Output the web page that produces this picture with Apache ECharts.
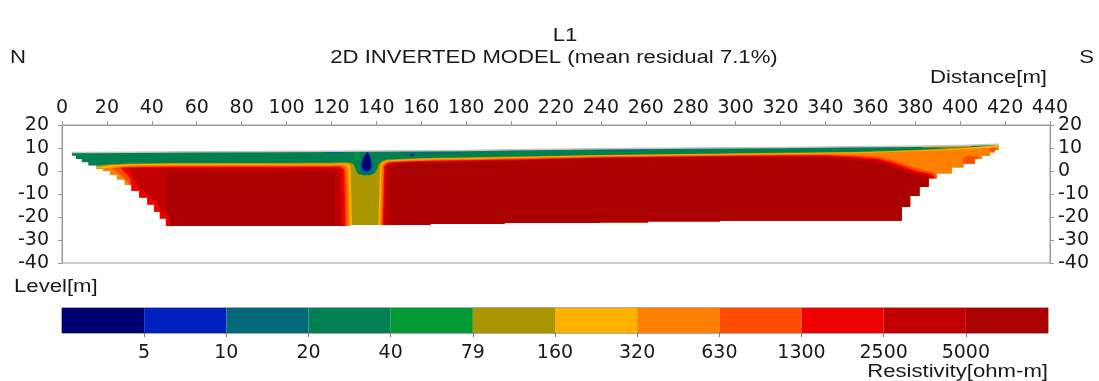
<!DOCTYPE html>
<html><head><meta charset="utf-8">
<script src="https://cdn.jsdelivr.net/npm/echarts@6/dist/echarts.min.js"></script>
<style>html,body{margin:0;padding:0;background:#fff}#c{width:1099px;height:381px}</style>
</head><body><div id="c"></div><script>
// ---- colour scale (resistivity, ohm-m) ----
const bandLimits = [5, 10, 20, 40, 79, 160, 320, 630, 1300, 2500, 5000];
const bandColors = ['#000070','#0020c0','#006878','#008050','#009933','#aa9600','#ffb000','#ff8000','#ff4c00','#ee0000','#c00000','#aa0000'];

// ---- section geometry (distance m, level m) ----
const surfaceProfile = [[4.4,8.0],[30,8.2],[60,8.4],[100,8.5],[140,8.7],[180,8.9],[200,9.2],[240,9.7],[280,10.0],[320,10.2],[350,10.5],[380,10.8],[400,11.1],[417,11.6]];
const rightStaircase = [[417,11.6],[417,9.1],[415.5,9.1],[415.5,8.1],[413.3,8.1],[413.3,6.7],[409.5,6.7],[409.5,5.2],[406.6,5.2],[406.6,3.3],[401.4,3.3],[401.4,1.6],[396.2,1.6],[396.2,-1.0],[389.5,-1.0],[389.5,-3.2],[385.9,-3.2],[385.9,-6.8],[381.8,-6.8],[381.8,-10.9],[377.7,-10.9],[377.7,-15.5],[374,-15.5],[374,-21.5]];
const bottomProfile = [[46.3,-23.9],[128,-23.9],[128,-23.5],[164,-23.5],[164,-23.0],[197,-23.0],[197,-22.6],[240,-22.6],[240,-22.3],[261,-22.3],[261,-21.9],[293,-21.9],[293,-21.5],[374,-21.5]];
const leftStaircase = [[4.4,8.0],[4.4,6.6],[6.2,6.6],[6.2,5.2],[8.8,5.2],[8.8,3.8],[11.7,3.8],[11.7,2.4],[15.4,2.4],[15.4,1.0],[18.5,1.0],[18.5,0.0],[21.5,0.0],[21.5,-1.6],[24.5,-1.6],[24.5,-3.6],[28,-3.6],[28,-6.0],[31,-6.0],[31,-8.6],[34.4,-8.6],[34.4,-11.5],[38,-11.5],[38,-14.6],[41,-14.6],[41,-17.7],[43.6,-17.7],[43.6,-20.6],[46.3,-20.6],[46.3,-23.9]];

// ---- resistivity zones (contour regions, painted low to high) ----
const zoneAll = [[0,20],[440,20],[440,-40],[0,-40]];
const zoneGe5 = [[0,2.3],[15,2.3],[20,2.8],[30,3.3],[50,3.5],[100,3.5],[120,3.6],[126,3.8],[128.3,3.6],[129.8,3.0],[130.8,0.5],[131.8,-1.2],[134,-1.8],[137,-1.8],[139,-1.2],[140.2,0.5],[141,3.0],[142.5,4.4],[145,5.0],[160,5.6],[200,6.3],[240,7.0],[300,7.7],[340,8.1],[355,8.4],[370,8.8],[385,9.4],[400,10.2],[417,11.0],[440,11.0],[440,-40],[0,-40]];
const zoneLeft6 = [[0,1.9],[17,1.9],[22,2.5],[30,2.9],[50,3.1],[120,3.2],[125.5,3.4],[127.6,3.0],[128.5,2.0],[129.6,-40],[0,-40]];
const zoneRight6 = [[140.4,-40],[141.6,2.0],[142.6,3.9],[145,4.7],[160,5.3],[200,6.0],[240,6.8],[300,7.5],[340,7.9],[355,8.2],[370,8.6],[385,9.1],[400,9.8],[410,10.6],[417,11.4],[440,11.4],[440,-40]];
const zoneLeft7 = [[0,0.8],[19,1.2],[24,2.0],[32,2.5],[50,2.7],[120,2.8],[125,2.9],[127,2.2],[127.6,1.0],[128.6,-40],[0,-40]];
const zoneRight7 = [[141.2,-40],[142.3,2.0],[143.2,3.6],[145.5,4.4],[160,5.0],[200,5.7],[240,6.5],[300,7.2],[340,7.6],[355,7.8],[370,8.3],[390,8.9],[405,9.6],[417,10.3],[440,10.3],[440,-40]];
const zoneLeft8 = [[22,1.2],[30,1.9],[50,2.2],[120,2.3],[124.5,2.4],[126.3,1.5],[126.6,0],[127.6,-40],[25,-40],[30.5,-6.5],[28.5,-3.8],[25.5,-1.2]];
const zoneRight8 = [[141.9,-40],[143,2.0],[144,3.4],[146,4.1],[160,4.6],[200,5.3],[240,6.2],[300,6.9],[340,7.2],[354,6.9],[364,6.1],[370,4.8],[376,2.8],[382,0.7],[388,-0.5],[391,-3],[396,-40]];
const zoneLeft9 = [[26,1.5],[35,1.7],[50,1.8],[120,1.9],[123.5,2.0],[125.3,1.0],[125.7,0],[126.6,-40],[27,-40],[30.8,-6.0],[30.5,-3.5],[28.5,-1.0]];
const zoneRight9 = [[142.4,-40],[143.5,2.0],[144.7,3.2],[147,3.8],[160,4.3],[200,5.0],[240,5.9],[300,6.6],[340,6.8],[353,6.2],[363,5.4],[369,4.0],[375,2.0],[381,-0.1],[387,-1.2],[390,-4],[394,-40]];
const zoneLeft10 = [[30,1.2],[50,1.3],[120,1.4],[122.8,1.3],[124.2,0.2],[125,-40],[47.8,-40],[47.8,-20.6],[45,-17.7],[42.5,-14.6],[39.5,-11.5],[36,-8.6],[33.2,-6.0],[32,-3],[30.8,-0.5]];
const zoneRight10 = [[143,-40],[144.2,2.0],[145.5,2.9],[148,3.5],[160,4.0],[200,4.7],[240,5.6],[300,6.3],[340,6.3],[352,5.5],[362,4.7],[368,3.3],[374,1.2],[380,-0.9],[386,-2.0],[389,-5],[392,-40]];
const zoneLeft11 = [[46.6,-0.6],[118,-0.6],[121,-1.2],[121.6,-3],[121.6,-40],[48.8,-40],[48.8,-21],[46.6,-18.5]];
const zoneRight11 = [[146,-40],[145.8,0],[146.5,2.6],[150,3.2],[170,3.7],[200,4.4],[232,5.3],[300,6.0],[340,5.8],[351,4.8],[361,4.0],[367,2.6],[373,0.4],[379,-1.7],[385,-2.8],[388,-6],[390,-40]];
const zoneWedgeBlobA = [[401.5,5.8],[404,6.6],[407.5,6.2],[408.5,4.8],[407,3.0],[401,3.0]];
const zoneWedgeBlobB = [[413.5,10.0],[415.5,10.2],[416.5,9.2],[414.5,8.3],[413,9.0]];
const zoneTopOlive = [[383,11.0],[405,11.4],[405,10.4],[395,10.1],[383,10.2]];
const zoneColumnTeal = [[133,3.0],[138.5,3.0],[138.6,0],[137.5,-1.4],[134,-1.4],[132.8,0]];
const zoneColumnGreen4 = [[130,8.6],[132.5,8.6],[132.5,5.5],[130.5,4.5]];
const zoneBlobBlue = [[136.0,8.5],[137.2,6.6],[137.8,4.5],[137.9,2.0],[137.2,0.2],[135.5,-0.3],[133.8,0.4],[133.3,2.5],[133.5,4.5],[134.6,6.6]];
const zoneBlobNavy = [[136.0,8.0],[136.8,6.5],[137.3,4.5],[137.4,2.0],[136.8,0.6],[135.5,0.2],[134.3,0.8],[133.8,2.5],[134.0,4.5],[135.0,6.5]];
const zoneSpeckNavy = [[155,7.7],[156.6,7.7],[156.6,6.6],[155,6.6]];
const zoneTealStripA = [[150,7.9],[178,8.0],[178,7.5],[150,7.3]];
const zoneTealStripB = [[240,9.2],[262,9.3],[262,8.8],[240,8.7]];
const zoneTealStripC = [[118,8.2],[126,8.2],[126,7.6],[118,7.6]];

const zones = [
  [3, zoneAll], [5, zoneGe5],
  [6, zoneLeft6], [6, zoneRight6],
  [7, zoneLeft7], [7, zoneRight7],
  [8, zoneLeft8], [8, zoneRight8],
  [9, zoneLeft9], [9, zoneRight9],
  [10, zoneLeft10], [10, zoneRight10],
  [11, zoneLeft11], [11, zoneRight11],
  [8, zoneWedgeBlobA], [8, zoneWedgeBlobB], [5, zoneTopOlive],
  [2, zoneColumnTeal], [4, zoneColumnGreen4], [1, zoneBlobBlue], [0, zoneBlobNavy],
  [0, zoneSpeckNavy], [2, zoneTealStripA], [2, zoneTealStripB], [2, zoneTealStripC]
];

const sectionOutline = surfaceProfile
  .concat(rightStaircase.slice(1))
  .concat(bottomProfile.slice().reverse().slice(1))
  .concat(leftStaircase.slice().reverse().slice(1, -1));

const TFONT = 'Liberation Sans, Arial, sans-serif';
const NFONT = 'DejaVu Sans, sans-serif';
const SX = 1.23;
const chart = echarts.init(document.getElementById('c'), null, {renderer: 'canvas'});
const axisGray = '#9a9a9a';
const labelStyle = {fontSize: 19, color: '#1a1a1a', fontFamily: NFONT};
function txt(text, x, y, align, size) {
  return {type: 'text', x: x, y: y, scaleX: SX, z: 100,
          style: {text: text, fontSize: size || 18, fontFamily: TFONT, fill: '#1a1a1a', align: align, verticalAlign: 'middle'}};
}

chart.setOption({
  animation: false,
  backgroundColor: '#fff',
  graphic: [
    txt('L1', 565, 36, 'center'),
    txt('2D INVERTED MODEL (mean residual 7.1%)', 554, 58, 'center'),
    txt('N', 10, 58, 'left'),
    txt('S', 1094, 58, 'right'),
    txt('Distance[m]', 1047, 78, 'right'),
    txt('Level[m]', 14, 287, 'left'),
    txt('Resistivity[ohm-m]', 1048, 372, 'right')
  ],
  grid: [
    {left: 62, top: 125, width: 988, height: 138, show: true, borderColor: axisGray, borderWidth: 1, backgroundColor: 'transparent'},
    {left: 62, top: 308, width: 986, height: 25, show: true, borderColor: '#555', borderWidth: 1}
  ],
  xAxis: [
    {gridIndex: 0, type: 'value', position: 'top', min: 0, max: 440, interval: 20,
     axisLine: {show: true, onZero: false, lineStyle: {color: axisGray}}, axisTick: {show: true, length: 4, lineStyle: {color: axisGray}},
     axisLabel: Object.assign({margin: 7}, labelStyle), splitLine: {show: false}},
    {gridIndex: 1, type: 'value', position: 'bottom', min: 0, max: 12, interval: 1,
     axisLine: {show: false, onZero: false}, axisTick: {show: true, length: 4, lineStyle: {color: '#777'}, customValues: [1,2,3,4,5,6,7,8,9,10,11]},
     axisLabel: Object.assign({margin: 11, customValues: [1,2,3,4,5,6,7,8,9,10,11], formatter: v => String(bandLimits[Math.round(v) - 1])}, labelStyle),
     splitLine: {show: false}}
  ],
  yAxis: [
    {gridIndex: 0, type: 'value', position: 'left', min: -40, max: 20, interval: 10,
     axisLine: {show: true, onZero: false, lineStyle: {color: axisGray}}, axisTick: {show: true, length: 4, lineStyle: {color: axisGray}},
     axisLabel: Object.assign({margin: 13}, labelStyle), splitLine: {show: false}},
    {gridIndex: 0, type: 'value', position: 'right', min: -40, max: 20, interval: 10,
     axisLine: {show: true, onZero: false, lineStyle: {color: axisGray}}, axisTick: {show: true, length: 4, lineStyle: {color: axisGray}},
     axisLabel: Object.assign({margin: 8}, labelStyle), splitLine: {show: false}},
    {gridIndex: 1, type: 'value', min: 0, max: 1, show: false}
  ],
  series: [
    {
      type: 'custom', xAxisIndex: 0, yAxisIndex: 0, clip: true,
      data: zones.map((z, i) => [i]),
      renderItem: function (params, api) {
        const z = zones[api.value(0)];
        const pts = z[1].map(p => api.coord(p));
        const clip = sectionOutline.map(p => api.coord(p));
        return {
          type: 'polygon',
          shape: {points: pts},
          style: {fill: bandColors[z[0]], stroke: null},
          clipPath: {type: 'polygon', shape: {points: clip}}
        };
      }
    },
    {
      type: 'custom', xAxisIndex: 0, yAxisIndex: 0, z: 5, silent: true,
      data: [[0]],
      renderItem: function (params, api) {
        return {type: 'polyline', shape: {points: surfaceProfile.map(p => api.coord(p))},
                style: {stroke: '#c4c4c4', lineWidth: 1.5, fill: null}};
      }
    },
    {
      type: 'custom', xAxisIndex: 1, yAxisIndex: 2,
      data: bandColors.map((c, i) => [i]),
      renderItem: function (params, api) {
        const i = api.value(0);
        const a = api.coord([i, 1]);
        const b = api.coord([i + 1, 0]);
        return {type: 'rect', shape: {x: a[0], y: a[1], width: b[0] - a[0], height: b[1] - a[1]},
                style: {fill: bandColors[i], stroke: null}};
      }
    }
  ]
});
</script></body></html>
